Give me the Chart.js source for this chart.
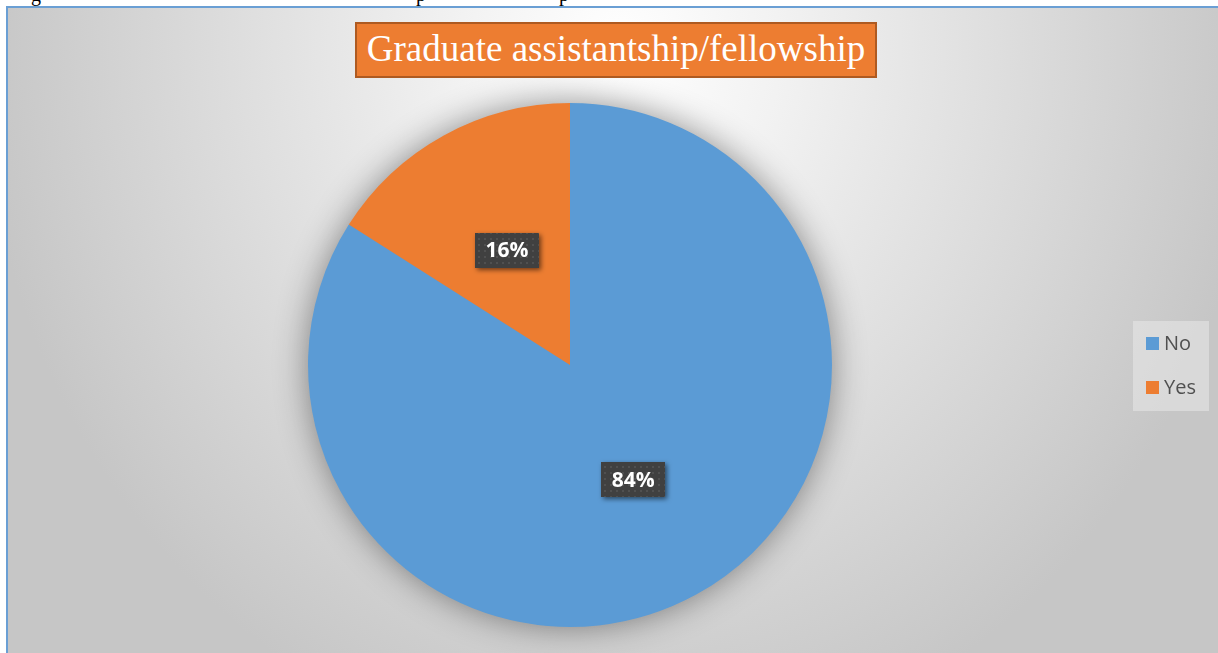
<!DOCTYPE html>
<html>
<head>
<meta charset="utf-8">
<script src="https://cdn.jsdelivr.net/npm/chart.js@4.4.0/dist/chart.umd.min.js"></script>
<style>
    html, body { margin: 0; padding: 0; background: #ffffff; overflow: hidden; }
    body { width: 1218px; height: 653px; position: relative; }
    .cut { position: absolute; top: -16px; font: 20px 'Liberation Serif', serif; line-height: 20px; color: #000; }
    #frame {
        position: absolute; left: 6px; top: 6px; width: 1216px; height: 660px;
        box-sizing: border-box; border: 2px solid #6a9fd4;
        background: radial-gradient(ellipse 640px 720px at 612px 40px, #ffffff 0%, #f2f2f2 25%, #c6c6c6 100%);
    }
    #chart { position: absolute; left: 8px; top: 8px; }
    #title {
        position: absolute; left: 355px; top: 22px; width: 522px; height: 56px;
        box-sizing: border-box; border: 2px solid #ae5a21; background: #ed7d31;
        color: #ffffff; font: 37px 'Liberation Serif', serif; line-height: 50px; text-align: center;
        white-space: nowrap;
    }
</style>
</head>
<body>
<span class="cut" style="left:31px">g</span>
<span class="cut" style="left:416px">p</span>
<span class="cut" style="left:559px">p</span>
<div id="frame"></div>
<canvas id="chart" width="1210" height="645"></canvas>
<div id="title">Graduate assistantship/fellowship</div>

<script>
const categories = ['No', 'Yes'];
const shares = [84, 16];
const sliceColors = ['#5b9bd5', '#ed7d31'];

document.addEventListener('DOMContentLoaded', () => {
    // small dotted texture for the value boxes
    function makeDots() {
        const c = document.createElement('canvas');
        c.width = 6; c.height = 6;
        const g = c.getContext('2d');
        g.fillStyle = '#404040';
        g.fillRect(0, 0, 6, 6);
        g.fillStyle = '#505050';
        g.fillRect(2, 2, 2, 2);
        return c;
    }
    const dots = makeDots();

    // soft glow under the whole pie
    const pieShadow = {
        id: 'pieShadow',
        beforeDatasetsDraw(chart) {
            const arc = chart.getDatasetMeta(0).data[0];
            if (!arc) return;
            const ctx = chart.ctx;
            ctx.save();
            ctx.shadowColor = 'rgba(0,0,0,0.45)';
            ctx.shadowBlur = 34;
            ctx.fillStyle = sliceColors[0];
            ctx.beginPath();
            ctx.arc(arc.x, arc.y, arc.outerRadius - 1, 0, Math.PI * 2);
            ctx.fill();
            ctx.restore();
        }
    };

    // percentage boxes in the middle of each slice
    const valueBoxes = {
        id: 'valueBoxes',
        afterDatasetsDraw(chart) {
            const ctx = chart.ctx;
            const pattern = ctx.createPattern(dots, 'repeat');
            chart.getDatasetMeta(0).data.forEach((arc, i) => {
                const p = arc.tooltipPosition();
                const text = chart.data.datasets[0].data[i] + '%';
                const w = 64, h = 35;
                ctx.save();
                ctx.shadowColor = 'rgba(0,0,0,0.55)';
                ctx.shadowBlur = 5;
                ctx.shadowOffsetX = 2;
                ctx.shadowOffsetY = 2;
                ctx.fillStyle = pattern;
                ctx.fillRect(Math.round(p.x - w / 2), Math.round(p.y - h / 2), w, h);
                ctx.restore();
                ctx.save();
                ctx.fillStyle = '#ffffff';
                ctx.font = 'bold 21px "Open Sans", sans-serif';
                ctx.textAlign = 'center';
                ctx.textBaseline = 'middle';
                ctx.fillText(text, p.x, p.y + 1);
                ctx.restore();
            });
        }
    };

    // legend box on the right
    const sideLegend = {
        id: 'sideLegend',
        afterDraw(chart) {
            const ctx = chart.ctx;
            const bx = 1125, by = 313, bw = 76, bh = 90;
            ctx.save();
            ctx.fillStyle = 'rgba(240,240,240,0.45)';
            ctx.fillRect(bx, by, bw, bh);
            ctx.font = '20px "Open Sans", sans-serif';
            ctx.textBaseline = 'middle';
            chart.data.labels.forEach((label, i) => {
                const y = by + 22 + i * 44;
                ctx.fillStyle = sliceColors[i];
                ctx.fillRect(bx + 13, y - 6, 13, 13);
                ctx.fillStyle = '#505050';
                ctx.fillText(label, bx + 31, y + 1);
            });
            ctx.restore();
        }
    };

    new Chart(document.getElementById('chart'), {
        type: 'pie',
        data: {
            labels: categories,
            datasets: [{
                data: shares,
                backgroundColor: sliceColors,
                borderWidth: 0,
                offset: 0,
                hoverOffset: 0
            }]
        },
        options: {
            responsive: false,
            maintainAspectRatio: false,
            animation: false,
            layout: { padding: { left: 300, right: 386, top: 95, bottom: 26 } },
            plugins: {
                legend: { display: false },
                title: { display: false },
                tooltip: { enabled: false }
            }
        },
        plugins: [pieShadow, valueBoxes, sideLegend]
    });
});
</script>
</body>
</html>
